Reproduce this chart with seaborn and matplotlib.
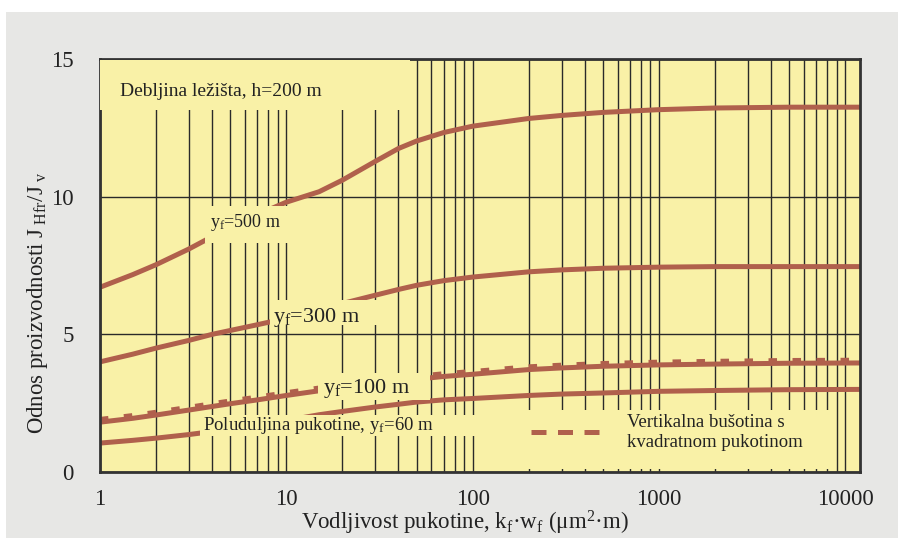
import numpy as np
import pandas as pd
import matplotlib
matplotlib.use("Agg")
import matplotlib.pyplot as plt
from matplotlib.patches import Rectangle
from matplotlib.lines import Line2D
import seaborn as sns

# ---------------- data ----------------
kw = [1, 1.5, 2, 3, 4, 5, 7, 10, 15, 20, 30, 40, 50, 70, 100, 200, 300, 500,
      1000, 2000, 5000, 12000]
y500 = [6.71, 7.17, 7.53, 8.10, 8.55, 8.90, 9.35, 9.80, 10.18, 10.60, 11.28,
        11.75, 12.02, 12.33, 12.56, 12.84, 12.95, 13.06, 13.16, 13.22, 13.25,
        13.25]
y300 = [4.00, 4.28, 4.50, 4.78, 5.00, 5.14, 5.35, 5.58, 5.90, 6.12, 6.42,
        6.63, 6.78, 6.95, 7.08, 7.27, 7.34, 7.40, 7.44, 7.46, 7.46, 7.46]
y100 = [1.81, 1.95, 2.07, 2.25, 2.38, 2.48, 2.62, 2.78, 2.95, 3.07, 3.22,
        3.31, 3.37, 3.47, 3.55, 3.72, 3.78, 3.84, 3.89, 3.92, 3.95, 3.96]
y_vert = [1.91, 2.05, 2.17, 2.35, 2.48, 2.58, 2.72, 2.88, 3.05, 3.17, 3.32,
          3.41, 3.47, 3.57, 3.65, 3.82, 3.88, 3.94, 3.99, 4.02, 4.05, 4.06]
y60 = [1.05, 1.15, 1.23, 1.36, 1.47, 1.56, 1.70, 1.87, 2.08, 2.20, 2.36,
       2.46, 2.54, 2.62, 2.67, 2.78, 2.83, 2.87, 2.93, 2.96, 2.99, 3.00]

xticks = [1, 10, 100, 1000, 10000]
xticklabels = ["1", "10", "100", "1000", "10000"]
yticks = [0, 5, 10, 15]
yticklabels = ["0", "5", "10", "15"]

# ---------------- style ----------------
BG = "#e7e7e5"
YEL = "#f9f1a7"
RED = "#b0604c"
GRID = "#2a2a2a"

plt.rcParams["font.family"] = ["Liberation Serif", "DejaVu Serif"]
plt.rcParams["mathtext.fontset"] = "custom"
plt.rcParams["mathtext.rm"] = "Liberation Serif"
plt.rcParams["mathtext.it"] = "Liberation Serif:italic"

fig = plt.figure(figsize=(8.98, 5.38), dpi=100, facecolor="white")
fig.patches.append(Rectangle((6 / 898, 0), 1, (538 - 12) / 538,
                             transform=fig.transFigure, facecolor=BG,
                             edgecolor="none", zorder=-10))
ax = fig.add_axes([100 / 898, (538 - 472) / 538, 760 / 898, 413 / 538])
ax.set_facecolor(YEL)

df = pd.DataFrame({"kw": kw, "y500": y500, "y300": y300, "y100": y100,
                   "yv": y_vert, "y60": y60})

LW = 3.6
for col in ["y500", "y300", "y100", "y60"]:
    sns.lineplot(data=df, x="kw", y=col, ax=ax, color=RED, linewidth=LW,
                 legend=False, zorder=2)
sns.lineplot(data=df, x="kw", y="yv", ax=ax, color=RED, linewidth=LW,
             linestyle=(0, (1.7, 3.1)), legend=False, zorder=2.1)
for ln in ax.lines:
    ln.set_solid_capstyle("butt")
    ln.set_dash_capstyle("butt")
    ln.set_solid_joinstyle("round")

ax.set_xscale("log")
ax.set_xlim(1, 12000)
ax.set_ylim(0, 15)
ax.set_xticks(xticks)
ax.set_xticklabels(xticklabels)
ax.set_yticks(yticks)
ax.set_yticklabels(yticklabels)
ax.xaxis.set_minor_locator(matplotlib.ticker.LogLocator(base=10, subs=np.arange(2, 10)))
ax.xaxis.set_minor_formatter(matplotlib.ticker.NullFormatter())
ax.tick_params(axis="both", which="both", length=0, labelsize=16.5,
               colors="#222222")
ax.tick_params(axis="y", pad=19)
ax.tick_params(axis="x", pad=12)
ax.grid(True, which="both", axis="x", color=GRID, linewidth=1.0)
ax.grid(True, which="major", axis="y", color=GRID, linewidth=1.0)
ax.set_axisbelow(True)
for s in ax.spines.values():
    s.set_color("#333333")
    s.set_linewidth(2.0)

ax.set_xlabel(r"Vodljivost pukotine, k$_\mathrm{f}$·w$_\mathrm{f}$ (μm$^2$·m)",
              fontsize=16.5, color="#222222")
ax.xaxis.set_label_coords(0.48, -0.09)
ax.set_ylabel(r"Odnos proizvodnosti J$_{\ \mathrm{Hfr}}$/J$_{\ \mathrm{v}}$",
              fontsize=16.5, color="#222222")
ax.yaxis.set_label_coords(-0.066, 0.41)

# ---------------- label boxes (axes coordinates) ----------------
boxes = [
    (0.0, 0.877, 0.408, 0.121),    # Debljina
    (0.138, 0.555, 0.118, 0.090),  # yf=500
    (0.224, 0.356, 0.143, 0.060),  # yf=300
    (0.287, 0.174, 0.147, 0.066),  # yf=100
    (0.132, 0.087, 0.371, 0.050),  # Poluduljina
    (0.503, 0.007, 0.458, 0.143),  # legend
]
for (bx, by, bw, bh) in boxes:
    ax.add_patch(Rectangle((bx, by), bw, bh, transform=ax.transAxes,
                           facecolor=YEL, edgecolor="none", zorder=3))

TC = "#222222"
ax.text(0.026, 0.911, "Debljina ležišta, h=200 m", transform=ax.transAxes,
        fontsize=14, color=TC, va="baseline", ha="left", zorder=4)
ax.text(0.1447, 0.594, r"y$_\mathrm{f}$=500 m", transform=ax.transAxes,
        fontsize=13, color=TC, va="baseline", ha="left", zorder=4)
ax.text(0.2276, 0.363, r"y$_\mathrm{f}$=300 m", transform=ax.transAxes,
        fontsize=16, color=TC, va="baseline", ha="left", zorder=4)
ax.text(0.293, 0.191, r"y$_\mathrm{f}$=100 m", transform=ax.transAxes,
        fontsize=16, color=TC, va="baseline", ha="left", zorder=4)
ax.text(0.1355, 0.1017, r"Poluduljina pukotine, y$_\mathrm{f}$=60 m",
        transform=ax.transAxes, fontsize=13.5, color=TC, va="baseline",
        ha="left", zorder=4)

handle = Line2D([], [], color=RED, linewidth=LW, linestyle=(0, (3.0, 2.3)),
                dash_capstyle="butt")
leg = ax.legend([handle], ["Vertikalna bušotina s\nkvadratnom pukotinom"],
                loc="lower left", bbox_to_anchor=(0.55, 0.02),
                frameon=False, fontsize=13.5, handlelength=4.2,
                handletextpad=0.9, labelcolor=TC, borderpad=0.2)
leg.set_zorder(5)

fig.savefig("out.png", dpi=100, facecolor=fig.get_facecolor())
